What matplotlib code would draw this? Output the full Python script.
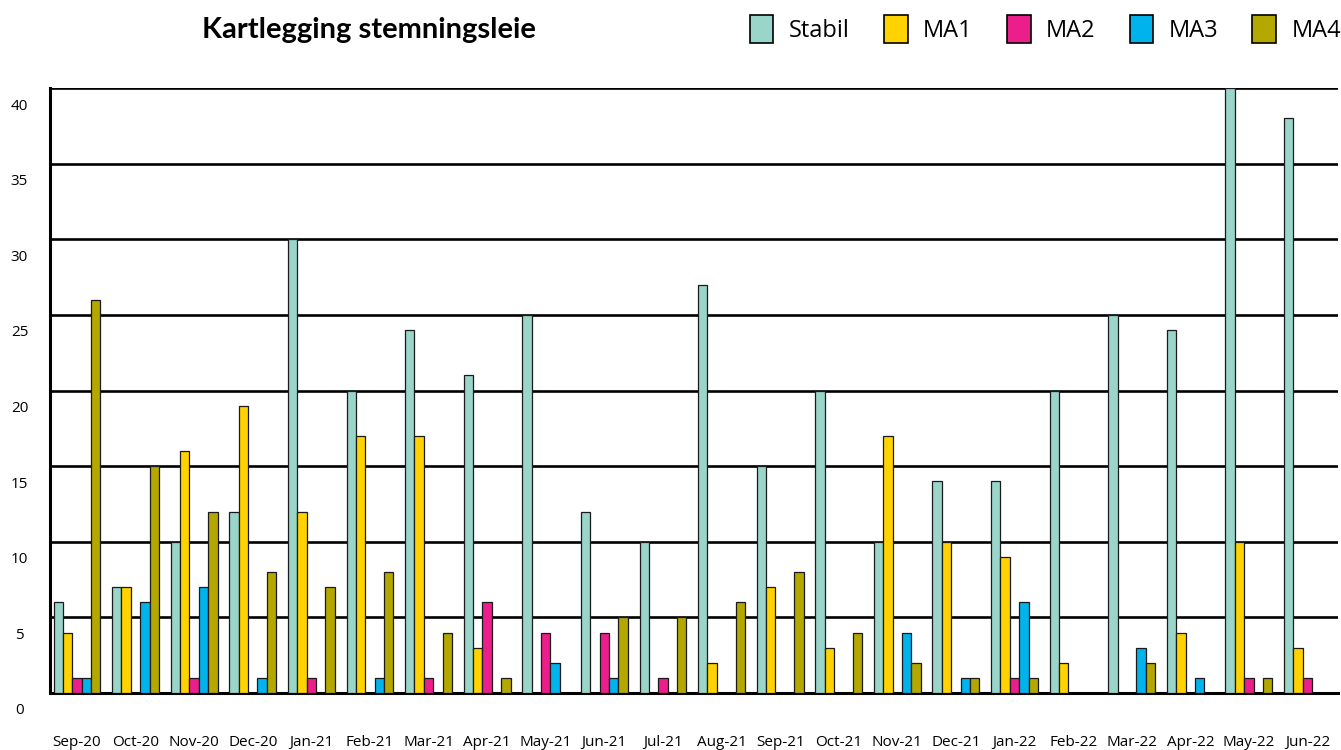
import numpy as np
import matplotlib
matplotlib.use("Agg")
import matplotlib.pyplot as plt
import matplotlib.transforms as mtransforms

months = ["Sep-20", "Oct-20", "Nov-20", "Dec-20", "Jan-21", "Feb-21", "Mar-21",
          "Apr-21", "May-21", "Jun-21", "Jul-21", "Aug-21", "Sep-21", "Oct-21",
          "Nov-21", "Dec-21", "Jan-22", "Feb-22", "Mar-22", "Apr-22", "May-22", "Jun-22"]

stabil = [6, 7, 10, 12, 30, 20, 24, 21, 25, 12, 10, 27, 15, 20, 10, 14, 14, 20, 25, 24, 40, 38]
ma1 = [4, 7, 16, 19, 12, 17, 17, 3, 0, 0, 0, 2, 7, 3, 17, 10, 9, 2, 0, 4, 10, 3]
ma2 = [1, 0, 1, 0, 1, 0, 1, 6, 4, 4, 1, 0, 0, 0, 0, 0, 1, 0, 0, 0, 1, 1]
ma3 = [1, 6, 7, 1, 0, 1, 0, 0, 2, 1, 0, 0, 0, 0, 4, 1, 6, 0, 3, 1, 0, 0]
ma4 = [26, 15, 12, 8, 7, 8, 4, 1, 0, 5, 5, 6, 8, 4, 2, 1, 1, 0, 2, 0, 1, 0]

series_names = ["Stabil", "MA1", "MA2", "MA3", "MA4"]
colors = ["#99D5C9", "#FFD200", "#EC1E8C", "#00B3EC", "#B3A700"]
yticks = [0, 5, 10, 15, 20, 25, 30, 35, 40]

fig = plt.figure(figsize=(13.41, 7.5), dpi=100)
ax = fig.add_axes([50 / 1341, 57 / 750, 1288 / 1341, 605 / 750])

x = np.arange(len(months))
width = 0.16
for i, (name, vals) in enumerate(zip(series_names, [stabil, ma1, ma2, ma3, ma4])):
    ax.bar(x + (i - 2) * width, vals, width, color=colors[i], edgecolor="#1a1a1a",
           linewidth=0.9, label=name, zorder=3)

ax.set_xlim(-0.46, 21.52)
ax.set_ylim(0, 40)
ax.set_yticks(yticks)
ax.set_xticks(x)
ax.set_xticklabels(months)

ax.yaxis.grid(True, color="black", linewidth=1.9)
ax.set_axisbelow(True)
for s in ["top", "right"]:
    ax.spines[s].set_visible(False)
ax.spines["left"].set_linewidth(2.2)
ax.spines["bottom"].set_linewidth(2.2)

ax.tick_params(axis="both", length=0, labelsize=11)
ax.tick_params(axis="x", pad=30)
ax.tick_params(axis="y", pad=22)
for lab in ax.get_xticklabels() + ax.get_yticklabels():
    lab.set_fontfamily("Open Sans")
# y labels sit a bit below their gridlines in the original
offset = mtransforms.ScaledTranslation(0, -0.16, fig.dpi_scale_trans)
for lab in ax.get_yticklabels():
    lab.set_ha("center")
    lab.set_transform(lab.get_transform() + offset)

fig.text(369 / 1341, 1 - 30 / 750, "Kartlegging stemningsleie", ha="center", va="center",
         fontsize=21, fontweight="bold", fontfamily="Lato")

handles, labels = ax.get_legend_handles_labels()
leg = fig.legend(handles, labels, loc="center right", bbox_to_anchor=(1.0, 1 - 29 / 750),
                 ncol=5, frameon=False, prop={"family": "Open Sans", "size": 17},
                 handlelength=1.0, handleheight=1.5, handletextpad=0.65,
                 columnspacing=1.45, borderaxespad=0, borderpad=0)
for h in leg.legend_handles:
    h.set_edgecolor("black")
    h.set_linewidth(1.2)

fig.savefig("out.png", dpi=100)
